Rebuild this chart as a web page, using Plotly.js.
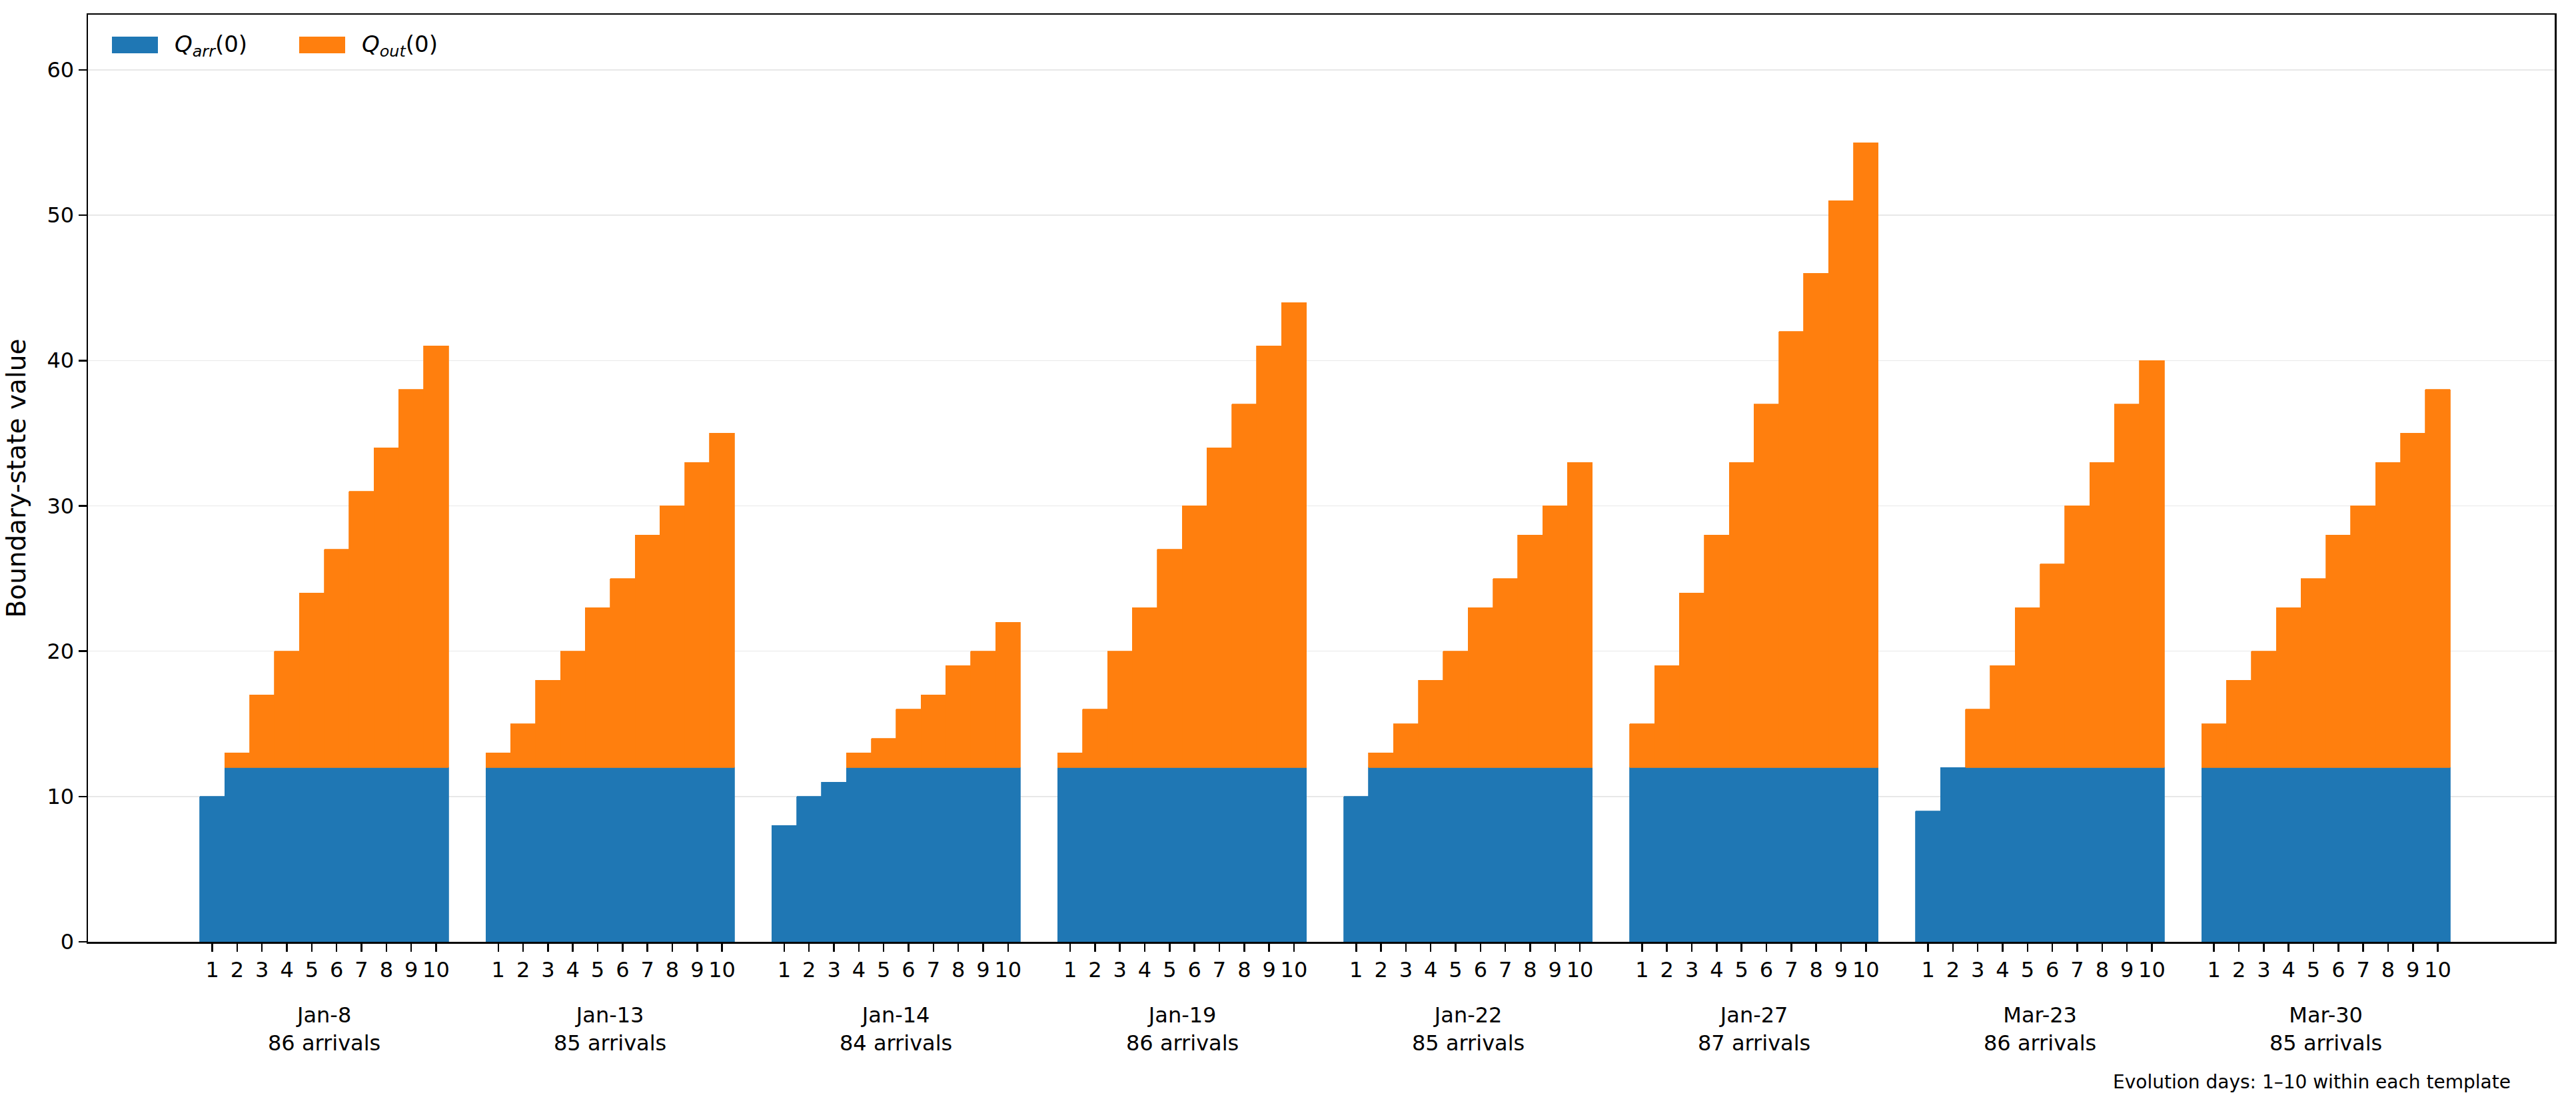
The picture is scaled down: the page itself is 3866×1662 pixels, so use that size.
<!DOCTYPE html>
<html>
<head>
<meta charset="utf-8">
<script src="https://cdn.plot.ly/plotly-3.0.1.min.js"></script>
<style>
  html, body { margin: 0; padding: 0; background: #fff; }
  #plot { width: 3866px; height: 1662px; }
</style>
</head>
<body>
<div id="plot"></div>
<script>
const templates = ["Jan-8", "Jan-13", "Jan-14", "Jan-19", "Jan-22", "Jan-27", "Mar-23", "Mar-30"];
const arrivals = [86, 85, 84, 86, 85, 87, 86, 85];
const days = [1, 2, 3, 4, 5, 6, 7, 8, 9, 10];

// Q_arr(0) per template, evolution day 1..10
const qArr = [
  [10, 12, 12, 12, 12, 12, 12, 12, 12, 12],
  [12, 12, 12, 12, 12, 12, 12, 12, 12, 12],
  [8, 10, 11, 12, 12, 12, 12, 12, 12, 12],
  [12, 12, 12, 12, 12, 12, 12, 12, 12, 12],
  [10, 12, 12, 12, 12, 12, 12, 12, 12, 12],
  [12, 12, 12, 12, 12, 12, 12, 12, 12, 12],
  [9, 12, 12, 12, 12, 12, 12, 12, 12, 12],
  [12, 12, 12, 12, 12, 12, 12, 12, 12, 12],
];
// Q_out(0), stacked on top of Q_arr(0)
const qOut = [
  [0, 1, 5, 8, 12, 15, 19, 22, 26, 29],
  [1, 3, 6, 8, 11, 13, 16, 18, 21, 23],
  [0, 0, 0, 1, 2, 4, 5, 7, 8, 10],
  [1, 4, 8, 11, 15, 18, 22, 25, 29, 32],
  [0, 1, 3, 6, 8, 11, 13, 16, 18, 21],
  [3, 7, 12, 16, 21, 25, 30, 34, 39, 43],
  [0, 0, 4, 7, 11, 14, 18, 21, 25, 28],
  [3, 6, 8, 11, 13, 16, 18, 21, 23, 26],
];

const BLUE = "#1f77b4", ORANGE = "#ff7f0e";
const FONT = "DejaVu Sans";
const W = 3866, H = 1662;
const M = { l: 132, r: 32, t: 22, b: 248 };
const groupStep = 11.5;

const xs = [], yArr = [], yOut = [], tickText = [];
templates.forEach((name, g) => {
  days.forEach((d, i) => {
    xs.push(g * groupStep + i);
    yArr.push(qArr[g][i]);
    yOut.push(qOut[g][i]);
    tickText.push(String(d));
  });
});

// thin outline in the fill colour hides seams between touching bars,
// but none on empty segments
const edge = (vals) => vals.map((v) => (v > 0 ? 0.8 : 0));

const arrTrace = {
  type: "bar",
  x: xs,
  y: yArr,
  width: 1,
  name: "Q_arr(0)",
  marker: { color: BLUE, line: { color: BLUE, width: edge(yArr) } },
};
const outTrace = {
  type: "bar",
  x: xs,
  y: yOut,
  width: 1,
  name: "Q_out(0)",
  marker: { color: ORANGE, line: { color: ORANGE, width: edge(yOut) } },
};

// pixel -> paper helpers
const pw = W - M.l - M.r, ph = H - M.t - M.b;
const px = (p) => (p - M.l) / pw;
const py = (p) => (H - M.b - p) / ph;

const annotations = templates.map((name, g) => ({
  xref: "x",
  yref: "paper",
  x: g * groupStep + 4.5,
  y: py(1545),
  yanchor: "middle",
  xanchor: "center",
  showarrow: false,
  text: name + "<br>" + arrivals[g] + " arrivals",
  font: { family: FONT, size: 32, color: "#000" },
}));
annotations.push({
  xref: "paper",
  yref: "paper",
  x: px(3770),
  y: py(1624),
  xanchor: "right",
  yanchor: "middle",
  showarrow: false,
  text: "Evolution days: 1–10 within each template",
  font: { family: FONT, size: 28, color: "#000" },
});

// legend drawn by hand so the patches keep matplotlib-like proportions
const legendItems = [
  { color: BLUE, x0: 168, label: "<i>Q</i><sub><i>arr</i></sub>(0)" },
  { color: ORANGE, x0: 449, label: "<i>Q</i><sub><i>out</i></sub>(0)" },
];
const shapes = [];
legendItems.forEach((it) => {
  shapes.push({
    type: "rect",
    xref: "paper",
    yref: "paper",
    x0: px(it.x0),
    x1: px(it.x0 + 69),
    y0: py(80),
    y1: py(55),
    fillcolor: it.color,
    line: { width: 0 },
  });
  annotations.push({
    xref: "paper",
    yref: "paper",
    x: px(it.x0 + 92),
    y: py(68),
    xanchor: "left",
    yanchor: "middle",
    showarrow: false,
    text: it.label,
    font: { family: FONT, size: 34, color: "#000" },
  });
});

const layout = {
  width: W,
  height: H,
  margin: M,
  paper_bgcolor: "#fff",
  plot_bgcolor: "#fff",
  barmode: "stack",
  bargap: 0,
  showlegend: false,
  font: { family: FONT, size: 32, color: "#000" },
  xaxis: {
    range: [-5, 94.2],
    tickvals: xs,
    ticktext: tickText,
    tickangle: 0,
    ticks: "outside",
    ticklen: 12,
    tickwidth: 2.5,
    tickcolor: "#000",
    tickfont: { family: FONT, size: 32, color: "#000" },
    showgrid: false,
    zeroline: false,
    showline: true,
    mirror: true,
    linecolor: "#000",
    linewidth: 2.5,
  },
  yaxis: {
    range: [0, 63.8],
    tickvals: [0, 10, 20, 30, 40, 50, 60],
    ticks: "outside",
    ticklen: 12,
    tickwidth: 2.5,
    tickcolor: "#000",
    tickfont: { family: FONT, size: 32, color: "#000" },
    showgrid: true,
    gridcolor: "#e8e8e8",
    gridwidth: 1.5,
    zeroline: false,
    showline: true,
    mirror: true,
    linecolor: "#000",
    linewidth: 2.5,
    title: {
      text: "Boundary-state value",
      font: { family: FONT, size: 39, color: "#000" },
      standoff: 20,
    },
  },
  shapes: shapes,
  annotations: annotations,
};

Plotly.newPlot("plot", [arrTrace, outTrace], layout, { staticPlot: true });
</script>
</body>
</html>
